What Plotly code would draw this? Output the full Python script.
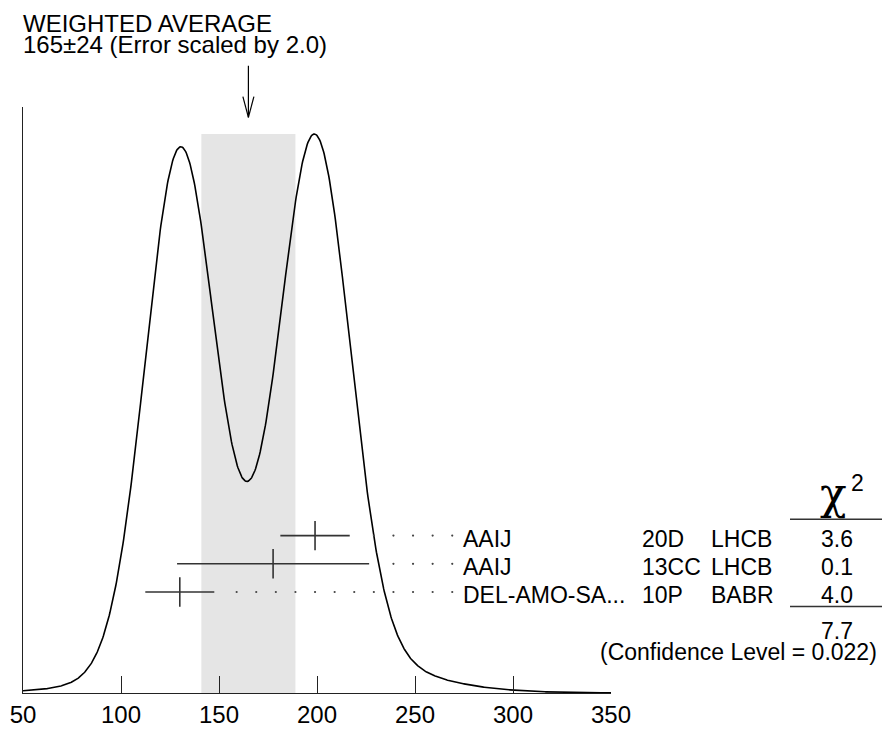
import numpy as np
import plotly.graph_objects as go

# ---- data ----
authors = ["AAIJ", "AAIJ", "DEL-AMO-SA..."]
documents = ["20D", "13CC", "10P"]
techniques = ["LHCB", "LHCB", "BABR"]
values = [199.0, 177.6, 130.0]
errors = [17.7, 49.0, 17.6]
chi2_values = ["3.6", "0.1", "4.0"]
chi2_total = "7.7"
confidence_level = "0.022"
avg_value = 165
avg_error = 24
error_scale = "2.0"
tick_vals = [50, 100, 150, 200, 250, 300, 350]
tick_text = ["50", "100", "150", "200", "250", "300", "350"]

FONT = "Liberation Sans, Arial, Helvetica, sans-serif"
W, H = 882, 729
ML, MR, MT, MB = 23, 271, 107, 36
PW, PH = W - ML - MR, H - MT - MB


def pxx(p):
    return (p - ML) / PW


def pxy(p):
    return (H - MB - p) / PH


# ideogram: each measurement a Gaussian with area proportional to 1/error
xs = np.linspace(50, 350, 901)
curve = np.zeros_like(xs)
for v, e in zip(values, errors):
    curve += np.exp(-0.5 * ((xs - v) / e) ** 2) / e ** 2
cmax = curve.max()
y_top = cmax * PH / 559.0

rows = list(range(len(values) - 1, -1, -1))  # top row first
row_px = 28.2
y2_lo = -101.0 / row_px
y2_hi = y2_lo + PH / row_px

fig = go.Figure()

# weighted-average band
fig.add_shape(type="rect", xref="x", yref="y", x0=avg_value - avg_error, x1=avg_value + avg_error,
              y0=0, y1=cmax, fillcolor="rgb(229,229,229)", line=dict(width=0), layer="below")

fig.add_trace(go.Scatter(x=xs, y=curve, mode="lines", line=dict(color="black", width=1.6),
                         hoverinfo="skip", showlegend=False))

# measurements
fig.add_trace(go.Scatter(x=values, y=rows, yaxis="y2", mode="markers",
                         marker=dict(symbol="line-ns", size=21, line=dict(color="#333", width=1.6)),
                         error_x=dict(type="data", array=errors, thickness=1.6, width=0, color="#333"),
                         showlegend=False, hoverinfo="skip"))

# dotted leaders
grid = 159 + 10 * np.arange(12)
for v, e, r in zip(values, errors, rows):
    dx = grid[grid >= v + e + 5]
    fig.add_trace(go.Scatter(x=dx, y=[r] * len(dx), yaxis="y2", mode="markers",
                             marker=dict(size=2.2, color="#444"), showlegend=False, hoverinfo="skip"))

ann = []
tf = dict(family=FONT, size=23, color="black")
for a, d, t, c, r in zip(authors, documents, techniques, chi2_values, rows):
    yy = r - 0.12
    ann.append(dict(x=pxx(461), y=yy, xref="paper", yref="y2", text=a, xanchor="left", yanchor="middle", font=tf, showarrow=False))
    ann.append(dict(x=pxx(640), y=yy, xref="paper", yref="y2", text=d, xanchor="left", yanchor="middle", font=tf, showarrow=False))
    ann.append(dict(x=pxx(709), y=yy, xref="paper", yref="y2", text=t, xanchor="left", yanchor="middle", font=tf, showarrow=False))
    ann.append(dict(x=pxx(837.5), y=yy, xref="paper", yref="y2", text=c, xanchor="center", yanchor="middle", font=tf, showarrow=False))

ann.append(dict(x=pxx(837.5), y=pxy(631), xref="paper", yref="paper", text=chi2_total, xanchor="center", yanchor="middle", font=tf, showarrow=False))
ann.append(dict(x=pxx(879), y=pxy(652), xref="paper", yref="paper", text=f"(Confidence Level = {confidence_level})",
                xanchor="right", yanchor="middle", font=tf, showarrow=False))
ann.append(dict(x=pxx(833), y=pxy(493), xref="paper", yref="paper", text="χ", xanchor="center", yanchor="middle",
                font=dict(family="DejaVu Serif, serif", size=44, color="black"), showarrow=False))
ann.append(dict(x=pxx(857.5), y=pxy(483), xref="paper", yref="paper", text="2", xanchor="center", yanchor="middle",
                font=dict(family=FONT, size=23, color="black"), showarrow=False))

ann.append(dict(x=pxx(21), y=pxy(23.5), xref="paper", yref="paper", text="WEIGHTED AVERAGE", xanchor="left", yanchor="middle",
                font=dict(family=FONT, size=24, color="black"), showarrow=False))
ann.append(dict(x=pxx(21), y=pxy(44), xref="paper", yref="paper", text=f"{avg_value}±{avg_error} (Error scaled by {error_scale})",
                xanchor="left", yanchor="middle", font=dict(family=FONT, size=24, color="black"), showarrow=False))

shapes_extra = []
lc = dict(color="#333", width=1.4)
for yline in (519.3, 606.5):
    shapes_extra.append(dict(type="line", xref="paper", yref="paper", x0=pxx(790), x1=pxx(882), y0=pxy(yline), y1=pxy(yline), line=lc))
# arrow to the average
ac = dict(color="black", width=1.2)
half = 5.5 / (PW / 300.0)
shapes_extra.append(dict(type="line", xref="x", yref="paper", x0=avg_value, x1=avg_value, y0=pxy(65.7), y1=pxy(117.3), line=ac))
shapes_extra.append(dict(type="line", xref="x", yref="paper", x0=avg_value - half, x1=avg_value, y0=pxy(96.7), y1=pxy(117.3), line=ac))
shapes_extra.append(dict(type="line", xref="x", yref="paper", x0=avg_value + half, x1=avg_value, y0=pxy(96.7), y1=pxy(117.3), line=ac))
for s in shapes_extra:
    fig.add_shape(**s)

fig.update_layout(
    width=W, height=H, margin=dict(l=ML, r=MR, t=MT, b=MB, pad=0, autoexpand=False),
    paper_bgcolor="white", plot_bgcolor="white", showlegend=False,
    annotations=ann,
    xaxis=dict(range=[50, 350], tickvals=tick_vals, ticktext=tick_text, ticks="inside", ticklen=17, tickwidth=1.4,
               tickcolor="#222", showline=True, linecolor="#222", linewidth=1.4, showgrid=False, zeroline=False,
               automargin=False, tickfont=dict(family=FONT, size=24, color="black")),
    yaxis=dict(range=[0, y_top], showline=True, linecolor="#222", linewidth=1.4, showticklabels=False, ticks="",
               showgrid=False, zeroline=False, automargin=False),
    yaxis2=dict(range=[y2_lo, y2_hi], overlaying="y", visible=False, showgrid=False, zeroline=False),
)

fig.write_html("out.html", config={"displayModeBar": False},
               post_script="document.body.style.margin='0';document.body.style.overflow='hidden';")
